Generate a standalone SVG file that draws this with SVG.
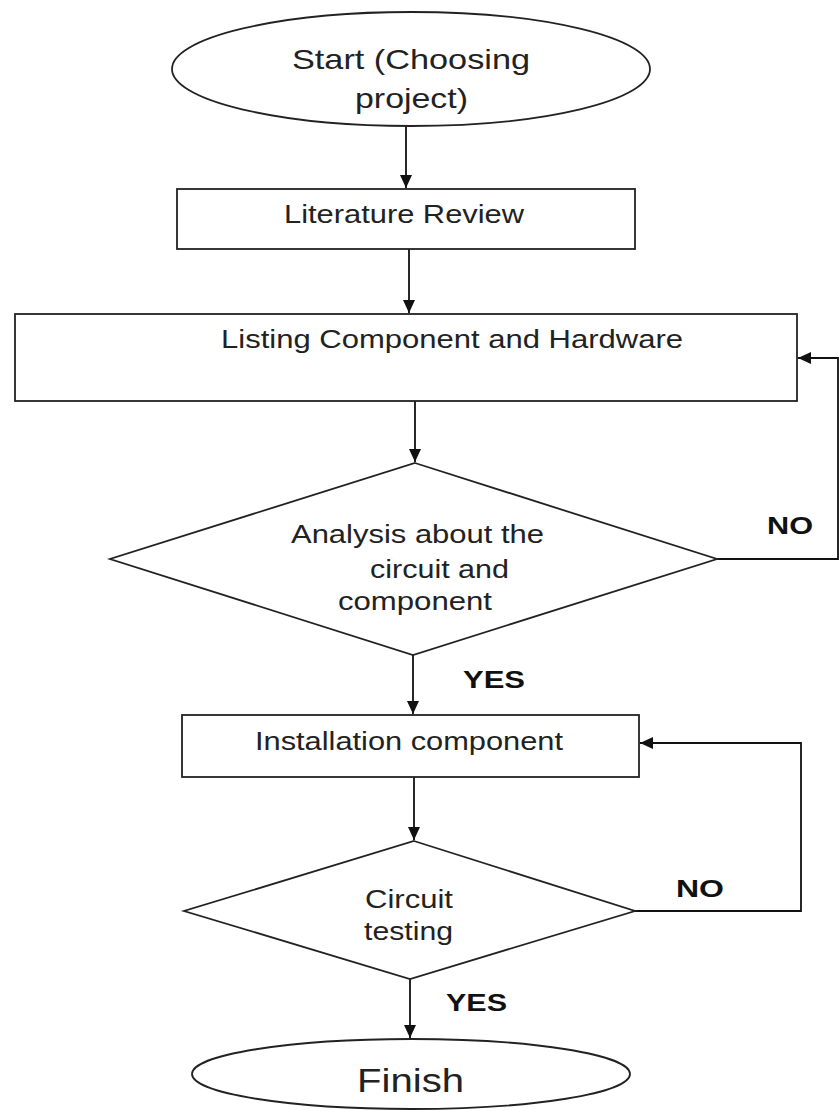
<svg xmlns="http://www.w3.org/2000/svg" width="840" height="1111" viewBox="0 0 840 1111">
<style>
.shape{fill:#fff;stroke:#222;stroke-width:1.8}
.conn{fill:none;stroke:#111;stroke-width:1.8}
.t{font-family:"Liberation Sans",Arial,sans-serif;font-size:25px;fill:#222}
.lbl{font-family:"Liberation Sans",Arial,sans-serif;font-size:24px;font-weight:bold;fill:#111}
</style>
<defs>
<marker id="arr" markerUnits="userSpaceOnUse" markerWidth="14" markerHeight="12" refX="13" refY="6" orient="auto">
<path d="M0,0 L13,6 L0,12 Z" fill="#111"/>
</marker>
</defs>
<rect width="840" height="1111" fill="#fff"/>
<g id="connectors">
<path class="conn" d="M406,126 V188" marker-end="url(#arr)"/>
<path class="conn" d="M409,249 V313" marker-end="url(#arr)"/>
<path class="conn" d="M415,401 V462" marker-end="url(#arr)"/>
<path class="conn" d="M717,559 H838 V358 H798" marker-end="url(#arr)"/>
<path class="conn" d="M413,655 V714" marker-end="url(#arr)"/>
<path class="conn" d="M414,777 V840" marker-end="url(#arr)"/>
<path class="conn" d="M635,911 H801 V743 H640" marker-end="url(#arr)"/>
<path class="conn" d="M410,979 V1038" marker-end="url(#arr)"/>
<text class="lbl" x="767" y="534" textLength="46" lengthAdjust="spacingAndGlyphs">NO</text>
<text class="lbl" x="463" y="688" textLength="62" lengthAdjust="spacingAndGlyphs">YES</text>
<text class="lbl" x="676" y="897" textLength="48" lengthAdjust="spacingAndGlyphs">NO</text>
<text class="lbl" x="446" y="1011" textLength="61" lengthAdjust="spacingAndGlyphs">YES</text>
</g>
<g id="start">
<ellipse class="shape" cx="411" cy="69" rx="239" ry="57"/>
<text class="t" style="font-size:28px" x="292" y="69" textLength="238" lengthAdjust="spacingAndGlyphs">Start (Choosing</text>
<text class="t" style="font-size:28px" x="355" y="108" textLength="113" lengthAdjust="spacingAndGlyphs">project)</text>
</g>
<g id="literature">
<rect class="shape" x="177" y="189" width="458" height="60"/>
<text class="t" x="284" y="223" textLength="240" lengthAdjust="spacingAndGlyphs">Literature Review</text>
</g>
<g id="listing">
<rect class="shape" x="15" y="314" width="782" height="87"/>
<text class="t" x="221" y="348" textLength="462" lengthAdjust="spacingAndGlyphs">Listing Component and Hardware</text>
</g>
<g id="analysis">
<polygon class="shape" points="415,463 717,559 413,655 110,559"/>
<text class="t" x="291" y="543" textLength="253" lengthAdjust="spacingAndGlyphs">Analysis about the</text>
<text class="t" x="370" y="578" textLength="139" lengthAdjust="spacingAndGlyphs">circuit and</text>
<text class="t" x="338" y="610" textLength="154" lengthAdjust="spacingAndGlyphs">component</text>
</g>
<g id="installation">
<rect class="shape" x="182" y="715" width="457" height="62"/>
<text class="t" x="255" y="750" textLength="308" lengthAdjust="spacingAndGlyphs">Installation component</text>
</g>
<g id="testing">
<polygon class="shape" points="414,841 635,911 410,979 184,911"/>
<text class="t" x="365" y="908" textLength="88" lengthAdjust="spacingAndGlyphs">Circuit</text>
<text class="t" x="364" y="940" textLength="89" lengthAdjust="spacingAndGlyphs">testing</text>
</g>
<g id="finish">
<ellipse class="shape" cx="411" cy="1074" rx="219" ry="35"/>
<text class="t" style="font-size:33px" x="357" y="1092" textLength="107" lengthAdjust="spacingAndGlyphs">Finish</text>
</g>
</svg>
